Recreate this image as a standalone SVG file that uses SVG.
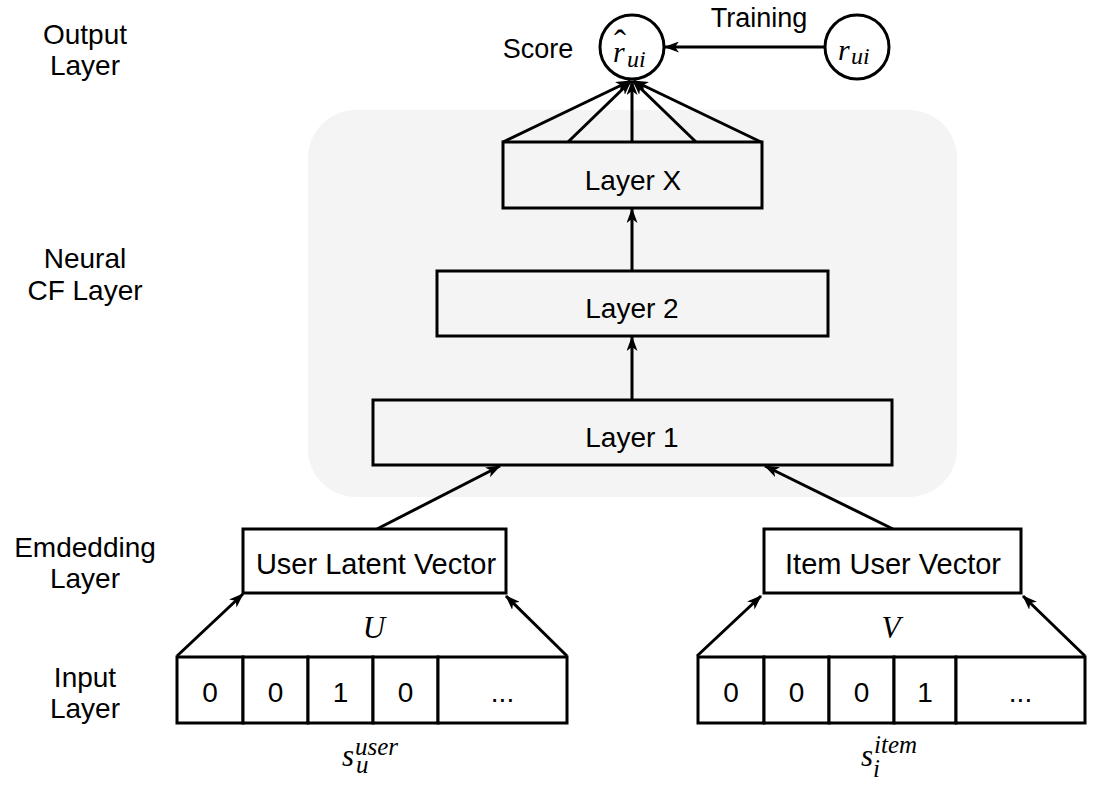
<svg xmlns="http://www.w3.org/2000/svg" width="1098" height="790" viewBox="0 0 1098 790">
<style>
.lbl{font-family:"Liberation Sans",Arial,sans-serif;font-size:28px;fill:#000;text-anchor:middle}
.box{fill:none;stroke:#000;stroke-width:3}
.cell{fill:#fff;stroke:#000;stroke-width:3}
.math{font-family:"Liberation Serif","Times New Roman",serif;font-style:italic;fill:#000}
.con{stroke:#000;stroke-width:3;fill:none;marker-end:url(#ah)}
</style>
<defs>
<marker id="ah" markerUnits="userSpaceOnUse" viewBox="0 0 15 11" refX="14" refY="5.5" markerWidth="15" markerHeight="11" orient="auto">
<path d="M0,0 L15,5.5 L0,11 L4,5.5 z" fill="#000"/>
</marker>
</defs>
<rect width="1098" height="790" fill="#fff"/>
<rect id="bg" x="308" y="110" width="649" height="387" rx="48" ry="48" fill="#f4f4f4"/>

<g id="labels">
<text class="lbl" x="85" y="44">Output</text>
<text class="lbl" x="85" y="75">Layer</text>
<text class="lbl" x="85" y="268">Neural</text>
<text class="lbl" x="85" y="300">CF Layer</text>
<text class="lbl" x="85" y="557">Emdedding</text>
<text class="lbl" x="85" y="588">Layer</text>
<text class="lbl" x="85" y="687">Input</text>
<text class="lbl" x="85" y="718">Layer</text>
<text class="lbl" x="538" y="58" style="font-size:27px">Score</text>
<text class="lbl" x="759" y="27" style="font-size:27px">Training</text>
</g>

<g id="score">
<circle cx="632" cy="47" r="32" fill="#fff" stroke="#000" stroke-width="3"/>
<text class="math" x="614" y="55" style="font-size:36px;font-style:normal">ˆ</text>
<text class="math" x="613" y="62" style="font-size:30px">r</text>
<text class="math" x="627" y="67" style="font-size:24px">ui</text>
</g>
<g id="truth">
<circle cx="857" cy="47" r="32" fill="#fff" stroke="#000" stroke-width="3"/>
<text class="math" x="838" y="60" style="font-size:30px">r</text>
<text class="math" x="851" y="64" style="font-size:24px">ui</text>
</g>

<g id="layerX">
<rect class="box" x="503" y="142" width="259" height="66" fill="#f4f4f4"/>
<text class="lbl" x="633" y="190">Layer X</text>
</g>
<g id="layer2">
<rect class="box" x="437" y="271" width="391" height="65"/>
<text class="lbl" x="632" y="318">Layer 2</text>
</g>
<g id="layer1">
<rect class="box" x="373" y="400" width="519" height="65"/>
<text class="lbl" x="632" y="447">Layer 1</text>
</g>

<g id="userVec">
<rect class="cell" x="243" y="529" width="263" height="64"/>
<text class="lbl" x="376" y="574" style="font-size:29px">User Latent Vector</text>
</g>
<g id="itemVec">
<rect class="cell" x="764" y="529" width="257" height="64"/>
<text class="lbl" x="893" y="574" style="font-size:29px">Item User Vector</text>
</g>

<g id="userInput">
<rect class="cell" x="177" y="657" width="66" height="66"/>
<rect class="cell" x="243" y="657" width="65" height="66"/>
<rect class="cell" x="308" y="657" width="65" height="66"/>
<rect class="cell" x="373" y="657" width="65" height="66"/>
<rect class="cell" x="438" y="657" width="129" height="66"/>
<text class="lbl" x="210" y="702">0</text>
<text class="lbl" x="275.5" y="702">0</text>
<text class="lbl" x="340.5" y="702">1</text>
<text class="lbl" x="405.5" y="702">0</text>
<text class="lbl" x="502.5" y="702">...</text>
<text class="math" x="374" y="638" style="font-size:31px;text-anchor:middle">U</text>
<text class="math" x="342" y="766" style="font-size:31px">s</text>
<text class="math" x="355" y="755" style="font-size:25px">user</text>
<text class="math" x="356" y="773" style="font-size:25px">u</text>
</g>
<g id="itemInput">
<rect class="cell" x="698" y="657" width="66" height="66"/>
<rect class="cell" x="764" y="657" width="65" height="66"/>
<rect class="cell" x="829" y="657" width="65" height="66"/>
<rect class="cell" x="894" y="657" width="62" height="66"/>
<rect class="cell" x="956" y="657" width="129" height="66"/>
<text class="lbl" x="731" y="702">0</text>
<text class="lbl" x="796.5" y="702">0</text>
<text class="lbl" x="861.5" y="702">0</text>
<text class="lbl" x="925" y="702">1</text>
<text class="lbl" x="1020.5" y="702">...</text>
<text class="math" x="891" y="638" style="font-size:31px;text-anchor:middle">V</text>
<text class="math" x="861" y="766" style="font-size:31px">s</text>
<text class="math" x="874" y="753" style="font-size:25px">item</text>
<text class="math" x="873" y="777" style="font-size:25px">i</text>
</g>

<g id="connectors">
<line class="con" x1="825" y1="47" x2="665" y2="47"/>
<line class="con" x1="503" y1="142" x2="630" y2="81"/>
<line class="con" x1="568" y1="142" x2="631" y2="81"/>
<line class="con" x1="632" y1="142" x2="632" y2="81"/>
<line class="con" x1="696" y1="142" x2="633" y2="81"/>
<line class="con" x1="761" y1="142" x2="634" y2="81"/>
<line class="con" x1="632" y1="271" x2="632" y2="209"/>
<line class="con" x1="632" y1="400" x2="632" y2="337"/>
<line class="con" x1="377" y1="529" x2="500" y2="466"/>
<line class="con" x1="893" y1="529" x2="765" y2="466"/>
<line class="con" x1="177" y1="656" x2="243" y2="594"/>
<line class="con" x1="567" y1="656" x2="506" y2="596"/>
<line class="con" x1="697" y1="656" x2="761" y2="596"/>
<line class="con" x1="1085" y1="656" x2="1023" y2="596"/>
</g>
</svg>
